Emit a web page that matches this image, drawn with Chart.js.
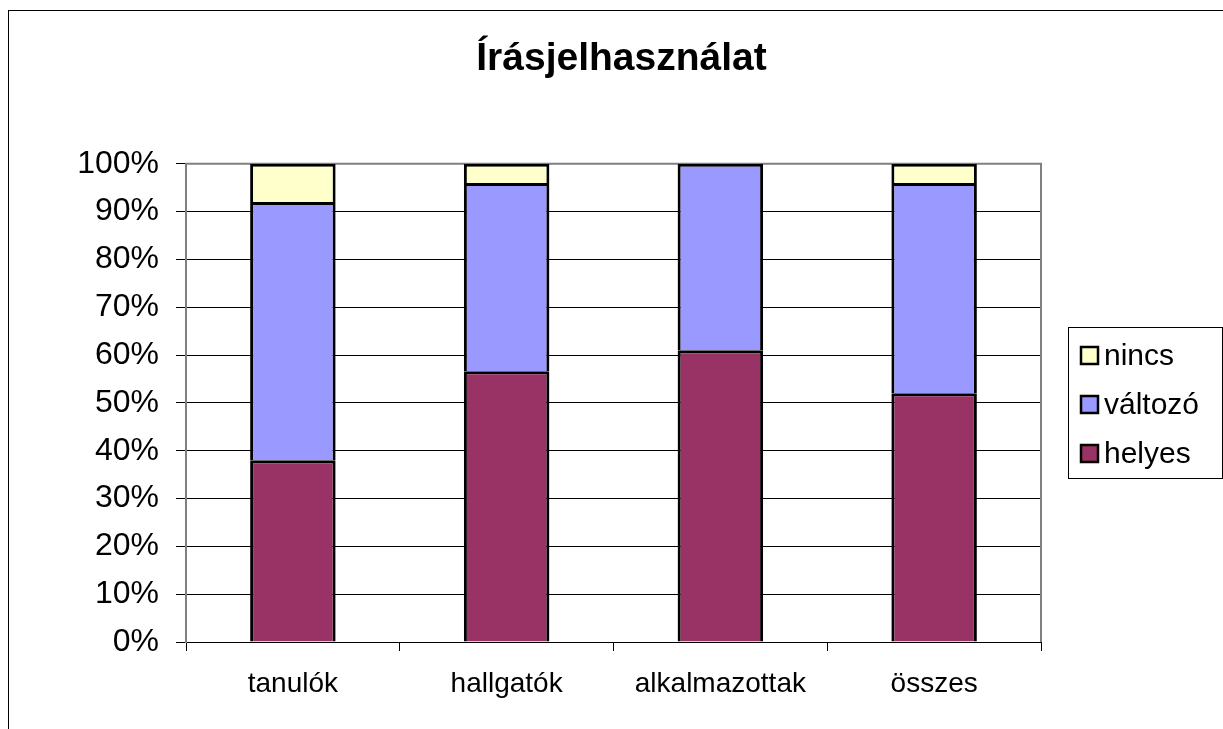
<!DOCTYPE html>
<html>
<head>
<meta charset="utf-8">
<title>Írásjelhasználat</title>
<script src="https://cdn.jsdelivr.net/npm/chart.js@4.4.1/dist/chart.umd.min.js"></script>
<style>
    html, body { margin: 0; padding: 0; background: #fff; }
    #wrap { width: 1223px; height: 729px; }
</style>
</head>
<body>
<div id="wrap"><canvas id="myChart" width="1223" height="729"></canvas></div>
<script>
// values, in percent
var categories = ['tanulók', 'hallgatók', 'alkalmazottak', 'összes'];
var helyes = [38, 56.6, 61, 52];
var valtozo = [54, 39.4, 39, 44];
var nincs = [8, 4, 0, 4];
var yTickLabels = ['0%', '10%', '20%', '30%', '40%', '50%', '60%', '70%', '80%', '90%', '100%'];

Chart.defaults.font.family = "'Liberation Sans', Arial, sans-serif";
Chart.defaults.color = '#000';

// outer border and the grey plot frame
var frame = {
    id: 'frame',
    beforeDraw: function (chart) {
        var c = chart.ctx;
        c.save();
        c.fillStyle = '#fff';
        c.fillRect(0, 0, chart.width, chart.height);
        c.strokeStyle = '#000';
        c.lineWidth = 1;
        c.strokeRect(8.5, 10.5, 1400, 900);
        c.restore();
    },
    beforeDatasetsDraw: function (chart) {
        var a = chart.chartArea, c = chart.ctx;
        c.save();
        c.strokeStyle = '#808080';
        c.lineWidth = 2;
        c.beginPath();
        c.moveTo(a.left, a.bottom);
        c.lineTo(a.left, a.top);
        c.lineTo(a.right, a.top);
        c.lineTo(a.right, a.bottom);
        c.stroke();
        c.restore();
    }
};

// boxed legend on the right, top series first
var boxLegend = {
    id: 'boxLegend',
    afterDraw: function (chart) {
        var c = chart.ctx;
        var sets = chart.data.datasets.slice().reverse();
        c.save();
        c.strokeStyle = '#000';
        c.lineWidth = 1;
        c.strokeRect(1068.5, 327.5, 154, 151);
        c.font = "30px 'Liberation Sans', Arial, sans-serif";
        c.textBaseline = 'middle';
        c.textAlign = 'left';
        sets.forEach(function (ds, i) {
            var cy = 355.5 + i * 49;
            c.fillStyle = ds.backgroundColor;
            c.fillRect(1081, cy - 8.5, 17, 17);
            c.lineWidth = 2.5;
            c.strokeRect(1081, cy - 8.5, 17, 17);
            c.fillStyle = '#000';
            c.fillText(ds.label, 1104, cy + 1);
        });
        c.restore();
    }
};

var ctx = document.getElementById('myChart').getContext('2d');
var myChart = new Chart(ctx, {
    type: 'bar',
    data: {
        labels: categories,
        datasets: [
            { label: 'helyes', data: helyes, backgroundColor: '#993366' },
            { label: 'változó', data: valtozo, backgroundColor: '#9999FF' },
            { label: 'nincs', data: nincs, backgroundColor: '#FFFFCC' }
        ]
    },
    options: {
        responsive: false,
        animation: false,
        devicePixelRatio: 1,
        layout: { padding: { left: 20, right: 0, top: 0, bottom: 0 } },
        datasets: {
            bar: {
                borderColor: '#000',
                borderWidth: 3,
                barPercentage: 0.4,
                categoryPercentage: 1
            }
        },
        plugins: {
            legend: { display: false },
            tooltip: { enabled: false },
            title: {
                display: true,
                text: 'Írásjelhasználat',
                color: '#000',
                font: { size: 39, weight: 'bold', lineHeight: 1.2 },
                padding: { top: 36, bottom: 81 }
            }
        },
        scales: {
            x: {
                stacked: true,
                grid: { offset: true, drawOnChartArea: false, tickLength: 9, color: '#000' },
                border: { color: '#000', width: 1 },
                ticks: { font: { size: 28 }, padding: 16, maxRotation: 0, autoSkip: false },
                afterFit: function (s) { s.height = 87; }
            },
            y: {
                stacked: true,
                min: 0,
                max: 100,
                ticks: {
                    stepSize: 10,
                    font: { size: 32 },
                    padding: 17,
                    callback: function (v, i) { return yTickLabels[i]; }
                },
                grid: { color: '#000', tickLength: 10 },
                border: { color: '#808080', width: 2 },
                afterFit: function (s) { s.width = 166; }
            },
            gap: {
                type: 'linear',
                position: 'right',
                grid: { display: false },
                ticks: { display: false },
                border: { display: false },
                afterFit: function (s) { s.width = 182; }
            }
        }
    },
    plugins: [frame, boxLegend]
});
</script>
</body>
</html>
